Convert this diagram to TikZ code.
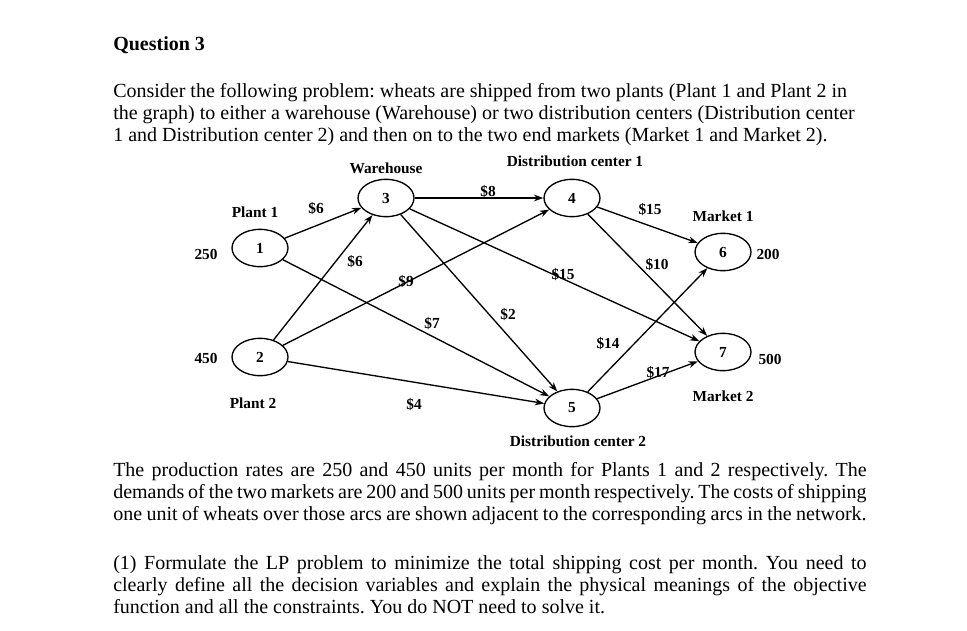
\documentclass[tikz,border=0pt]{standalone}
\usepackage{fontspec}
\setmainfont{Liberation Serif}
\usetikzlibrary{shapes.geometric,arrows.meta}
\frenchspacing
\begin{document}
\begin{tikzpicture}[x=0.75pt,y=-0.75pt,
  nd/.style={ellipse,draw,line width=1pt,minimum width=42pt,minimum height=28pt,inner sep=0pt,font=\fontsize{11.5}{12}\selectfont\bfseries},
  lb/.style={font=\fontsize{11.5}{13}\selectfont\bfseries,inner sep=0pt},
  ar/.style={draw,line width=1pt,-{Stealth[length=7pt,width=5pt]}},
  body/.style={font=\fontsize{15}{16.5}\selectfont,inner sep=0pt,anchor=base west},
  par/.style={font=\fontsize{15}{16.5}\selectfont,inner sep=0pt,anchor=north west,text width=565pt,align=justify}]
\useasboundingbox[fill=white] (0,0) rectangle (967,631);
\node[body,font=\fontsize{15}{16}\selectfont\bfseries] (q) at (113,51) {Question 3};
\node[body] (l1) at (113,98) {Consider the following problem: wheats are shipped from two plants (Plant 1 and Plant 2 in};
\node[body] (l2) at (113,120) {the graph) to either a warehouse (Warehouse) or two distribution centers (Distribution center};
\node[body] (l3) at (113,142) {1 and Distribution center 2) and then on to the two end markets (Market 1 and Market 2).};
\node[par] (p2) at (113,462) {The production rates are 250 and 450 units per month for Plants 1 and 2 respectively. The\linebreak demands of the two markets are 200 and 500 units per month respectively. The costs of shipping\linebreak one unit of wheats over those arcs are shown adjacent to the corresponding arcs in the network.};
\node[par] (p3) at (113,555) {(1) Formulate the LP problem to minimize the total shipping cost per month. You need to\linebreak clearly define all the decision variables and explain the physical meanings of the objective\linebreak function and all the constraints. You do NOT need to solve it.};
% nodes
\node[nd] (n1) at (260,248) {1};
\node[nd] (n2) at (260,357) {2};
\node[nd] (n3) at (386,198) {3};
\node[nd] (n4) at (572,198) {4};
\node[nd] (n5) at (572,408) {5};
\node[nd] (n6) at (723,252) {6};
\node[nd] (n7) at (723,352) {7};
% arcs
\draw[ar] (n1) -- (n3);
\draw[ar] (n1) -- (n5);
\draw[ar] (n2) -- (n3);
\draw[ar] (n2) -- (n4);
\draw[ar] (n2) -- (n5);
\draw[ar] (n3) -- (n4);
\draw[ar] (n3) -- (n5);
\draw[ar] (n3) -- (n7);
\draw[ar] (n4) -- (n6);
\draw[ar] (n4) -- (n7);
\draw[ar] (n5) -- (n6);
\draw[ar] (n5) -- (n7);
% labels
\node[lb] (t3) at (386,168) {Warehouse};
\node[lb] (t4) at (575,161) {Distribution center 1};
\node[lb] (t1) at (255,212) {Plant 1};
\node[lb] (t2) at (253,403) {Plant 2};
\node[lb] (t5) at (578,441) {Distribution center 2};
\node[lb] (t6) at (723,216) {Market 1};
\node[lb] (t7) at (723,396) {Market 2};
\node[lb] (s1) at (206,254) {250};
\node[lb] (s2) at (206,358) {450};
\node[lb] (d6) at (768,254) {200};
\node[lb] (d7) at (770,359) {500};
\node[lb] (c13) at (316,209) {\$6};
\node[lb] (c23) at (355,262) {\$6};
\node[lb] (c24) at (406,282) {\$9};
\node[lb] (c15) at (432,324) {\$7};
\node[lb] (c35) at (508,315) {\$2};
\node[lb] (c37) at (563,275) {\$15};
\node[lb] (c34) at (488,192) {\$8};
\node[lb] (c46) at (650,210) {\$15};
\node[lb] (c47) at (657,265) {\$10};
\node[lb] (c56) at (608,344) {\$14};
\node[lb] (c57) at (658,373) {\$17};
\node[lb] (c25) at (414,405) {\$4};
\end{tikzpicture}
\end{document}
